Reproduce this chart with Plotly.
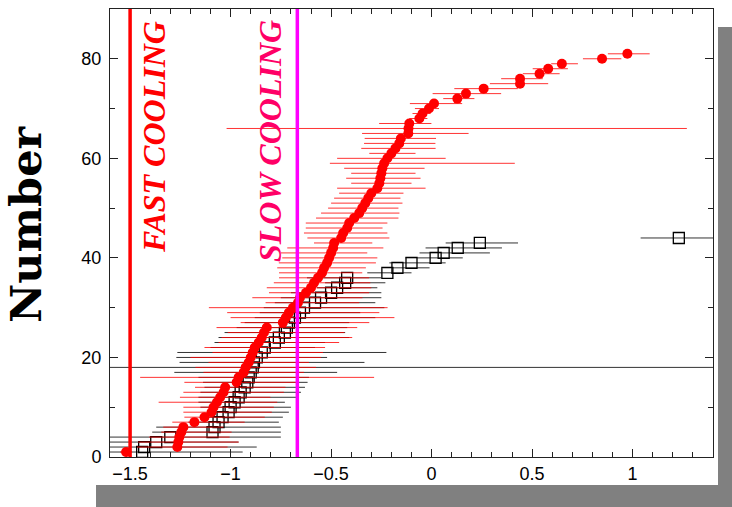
import plotly.graph_objects as go

# ---- data: red filled circles (y = rank 1..81) ----
red_x = [-1.52, -1.265, -1.26, -1.255, -1.245, -1.235, -1.18, -1.13, -1.095, -1.085,
         -1.068, -1.052, -1.035, -1.027, -0.97, -0.96, -0.935, -0.925, -0.91, -0.90,
         -0.89, -0.88, -0.86, -0.845, -0.834, -0.82, -0.74, -0.725, -0.71, -0.69,
         -0.665, -0.655, -0.625, -0.60, -0.585, -0.565, -0.545, -0.535, -0.52, -0.51,
         -0.50, -0.49, -0.485, -0.45, -0.44, -0.42, -0.41, -0.385, -0.36, -0.345,
         -0.33, -0.315, -0.30, -0.27, -0.26, -0.255, -0.25, -0.245, -0.236, -0.22,
         -0.20, -0.18, -0.161, -0.153, -0.116, -0.115, -0.111, -0.061, -0.045, -0.013,
         0.012, 0.128, 0.171, 0.259, 0.44, 0.44, 0.537, 0.58, 0.648, 0.848, 0.974]
red_err_minus = [0.03, 0.2, 0.2, 0.15, 0.1, 0.1, 0.11, 0.1, 0.14, 0.15,
                 0.29, 0.2, 0.2, 0.15, 0.26, 0.49, 0.2, 0.25, 0.2, 0.3,
                 0.2, 0.25, 0.2, 0.2, 0.18, 0.25, 0.21, 0.275, 0.307, 0.418,
                 0.161, 0.237, 0.184, 0.22, 0.2, 0.194, 0.214, 0.233, 0.24, 0.233,
                 0.25, 0.228, 0.1, 0.168, 0.195, 0.206, 0.216, 0.19, 0.19, 0.17,
                 0.17, 0.17, 0.16, 0.2, 0.14, 0.17, 0.15, 0.19, 0.27, 0.25,
                 0.11, 0.17, 0.175, 0.18, 0.23, 0.905, 0.15, 0.05, 0.05, 0.07,
                 0.12, 0.07, 0.166, 0.146, 0.15, 0.094, 0.083, 0.077, 0.053, 0.095, 0.097]
red_err_plus = [0.03, 0.25, 0.3, 0.25, 0.25, 0.2, 0.25, 0.3, 0.3, 0.3,
                0.3, 0.25, 0.3, 0.3, 0.3, 0.674, 0.3, 0.35, 0.3, 0.35,
                0.35, 0.35, 0.4, 0.45, 0.4, 0.45, 0.43, 0.54, 0.45, 0.471,
                0.305, 0.311, 0.314, 0.3, 0.28, 0.254, 0.2, 0.208, 0.243, 0.24,
                0.18, 0.25, 0.19, 0.24, 0.22, 0.176, 0.19, 0.22, 0.2, 0.18,
                0.185, 0.16, 0.16, 0.24, 0.16, 0.2, 0.17, 0.21, 0.65, 0.29,
                0.12, 0.2, 0.18, 0.175, 0.3, 1.385, 0.11, 0.04, 0.04, 0.05,
                0.14, 0.085, 0.175, 0.17, 0.14, 0.113, 0.1, 0.098, 0.08, 0.096, 0.111]

# ---- data: black open squares (y = rank 1..44) ----
blk_x = [-1.44, -1.43, -1.37, -1.30, -1.09, -1.08, -1.06, -1.04, -1.01, -1.0,
         -0.98, -0.96, -0.95, -0.93, -0.917, -0.91, -0.90, -0.89, -0.884, -0.87,
         -0.845, -0.83, -0.78, -0.76, -0.73, -0.72, -0.71, -0.68, -0.655, -0.635,
         -0.58, -0.55, -0.50, -0.47, -0.43, -0.42, -0.22, -0.17, -0.10, 0.02,
         0.06, 0.13, 0.24, 1.23]
blk_err_minus = [0.3, 0.3, 0.35, 0.4, 0.3, 0.29, 0.15, 0.1, 0.1, 0.15,
                 0.18, 0.2, 0.2, 0.2, 0.22, 0.25, 0.38, 1.0, 0.37, 0.4,
                 0.42, 0.27, 0.3, 0.3, 0.3, 0.25, 0.22, 0.2, 0.2, 0.2,
                 0.2, 0.2, 0.2, 0.1, 0.1, 0.2, 0.1, 0.074, 0.11, 0.15,
                 0.12, 0.16, 0.17, 0.19]
blk_err_plus = [0.5, 0.56, 0.41, 0.55, 0.34, 0.33, 0.3, 0.3, 0.3, 0.3,
                0.25, 0.3, 0.3, 0.3, 0.3, 0.3, 0.43, 2.6, 0.55, 0.35,
                0.62, 0.25, 0.25, 0.35, 0.3, 0.3, 0.3, 0.4, 0.3, 0.4,
                0.3, 0.3, 0.25, 0.2, 0.2, 0.17, 0.12, 0.16, 0.17, 0.135,
                0.23, 0.22, 0.19, 0.3]

red_y = list(range(1, len(red_x) + 1))
blk_y = list(range(1, len(blk_x) + 1))

fast_cooling_x = -1.5
slow_cooling_x = -0.668

x_tickvals = [-1.5, -1, -0.5, 0, 0.5, 1]
x_ticktext = ["\u22121.5", "\u22121", "\u22120.5", "0", "0.5", "1"]
y_tickvals = [0, 20, 40, 60, 80]

fig = go.Figure()

fig.add_trace(go.Scatter(
    x=blk_x, y=blk_y, mode="markers",
    marker=dict(symbol="square-open", size=11, color="black", line=dict(width=1.3, color="black")),
    error_x=dict(type="data", symmetric=False, array=blk_err_plus, arrayminus=blk_err_minus,
                 width=0, thickness=1, color="rgba(0,0,0,0.8)"),
    showlegend=False, cliponaxis=True,
))
fig.add_trace(go.Scatter(
    x=red_x, y=red_y, mode="markers",
    marker=dict(symbol="circle", size=10, color="#ff0000", line=dict(width=0)),
    error_x=dict(type="data", symmetric=False, array=red_err_plus, arrayminus=red_err_minus,
                 width=0, thickness=1, color="rgba(255,0,0,0.8)"),
    showlegend=False, cliponaxis=True,
))

# vertical reference lines
fig.add_shape(type="line", xref="x", yref="paper", x0=fast_cooling_x, x1=fast_cooling_x, y0=0, y1=1,
              line=dict(color="#ff0000", width=3.5), layer="above")
fig.add_shape(type="line", xref="x", yref="paper", x0=slow_cooling_x, x1=slow_cooling_x, y0=0, y1=1,
              line=dict(color="#ff00ff", width=3.5), layer="above")

# drop shadow of the frame
fig.add_shape(type="rect", xref="paper", yref="paper", x0=1.0083, x1=1.06, y0=-0.16, y1=0.9598,
              fillcolor="#808080", line=dict(width=0), layer="below")
fig.add_shape(type="rect", xref="paper", yref="paper", x0=-0.0232, x1=1.06, y0=-0.16, y1=-0.0625,
              fillcolor="#808080", line=dict(width=0), layer="below")

fig.add_annotation(text="FAST COOLING", xref="paper", yref="paper", x=(154 - 110) / 603, y=(457 - 137) / 448,
                   textangle=-90, showarrow=False, xanchor="center", yanchor="middle",
                   font=dict(family="Liberation Serif", size=32, color="#ff0000", weight="bold", style="italic"))
fig.add_annotation(text="SLOW COOLING", xref="paper", yref="paper", x=(270 - 110) / 603, y=(457 - 141) / 448,
                   textangle=-90, showarrow=False, xanchor="center", yanchor="middle",
                   font=dict(family="Liberation Serif", size=32, color="#ff0066", weight="bold", style="italic"))
fig.add_annotation(text="Number", xref="paper", yref="paper", x=(26 - 110) / 603, y=(457 - 225) / 448,
                   textangle=-90, showarrow=False, xanchor="center", yanchor="middle",
                   font=dict(family="DejaVu Serif", size=43, color="black", weight="bold"))

axis_common = dict(showgrid=False, zeroline=False, showline=True, linecolor="#222222", linewidth=1,
                   mirror="ticks", ticks="inside", ticklen=8, tickwidth=1, tickcolor="#222222",
                   tickfont=dict(family="Liberation Sans", size=18, color="black"))

fig.update_xaxes(range=[-1.6, 1.4], tickvals=x_tickvals, ticktext=x_ticktext,
                 minor=dict(dtick=0.1, tick0=0, ticks="inside", ticklen=5, tickcolor="#222222"),
                 ticklabelstandoff=0, **axis_common)
fig.update_yaxes(range=[0, 90], tickvals=y_tickvals,
                 minor=dict(dtick=10, tick0=0, ticks="inside", ticklen=5, tickcolor="#222222"),
                 ticklabelstandoff=4, **axis_common)

fig.update_layout(width=732, height=507, margin=dict(l=110, r=19, t=9, b=50),
                  paper_bgcolor="white", plot_bgcolor="white")

fig.write_html("out.html")
